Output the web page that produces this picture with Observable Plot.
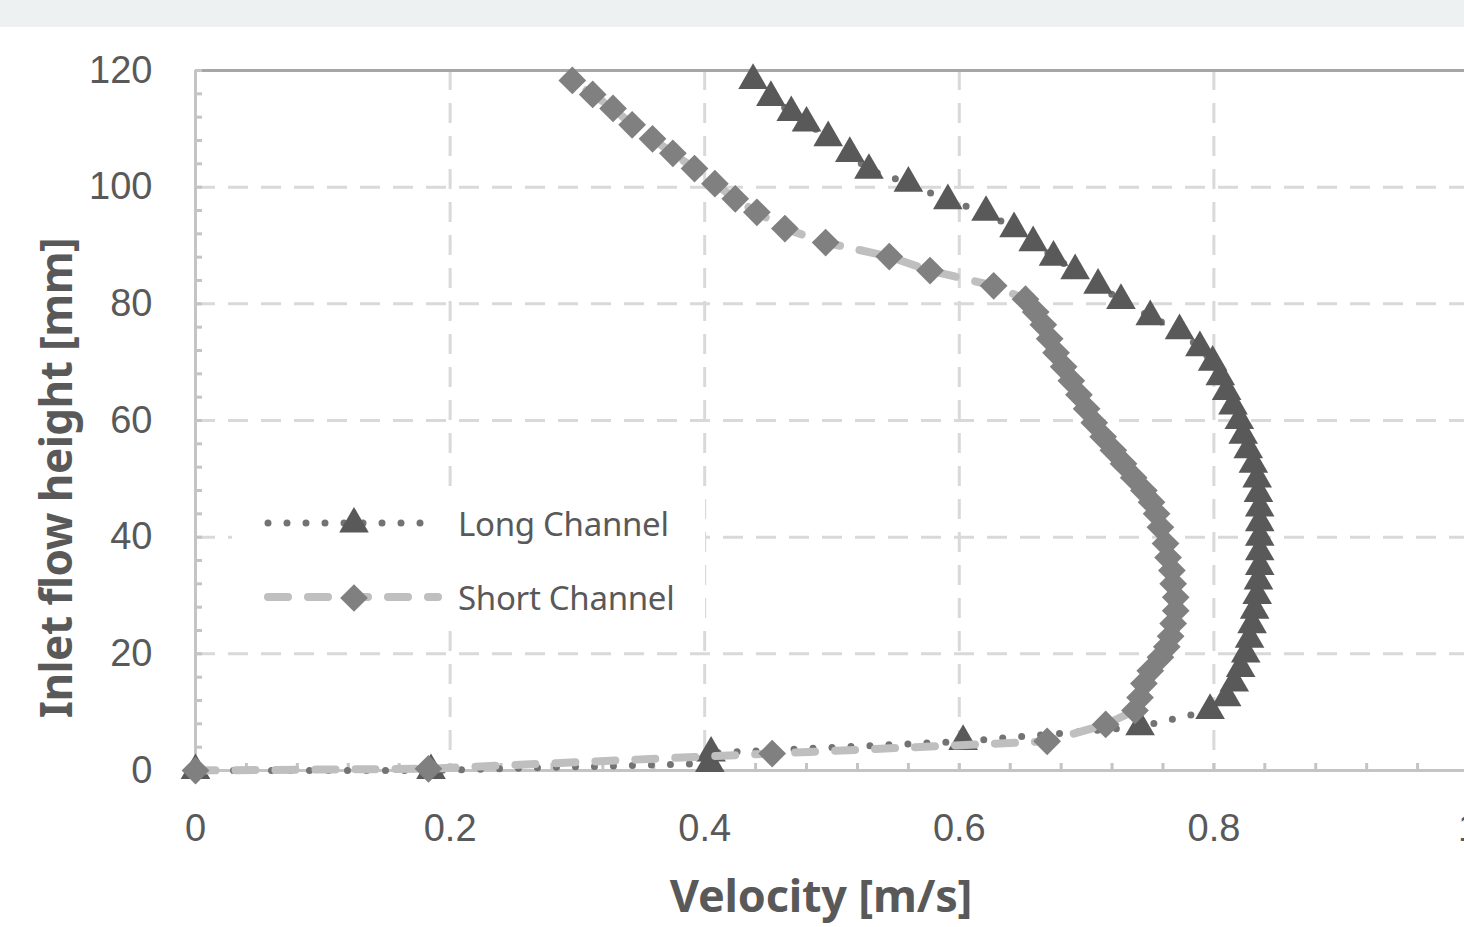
<!DOCTYPE html>
<html>
<head>
<meta charset="utf-8">
<script src="https://cdn.jsdelivr.net/npm/d3@7"></script>
<script src="https://cdn.jsdelivr.net/npm/@observablehq/plot@0.6"></script>
<style>
  html, body { margin: 0; padding: 0; background: #fff; overflow: hidden; }
  #wrap { position: relative; width: 1464px; height: 927px; overflow: hidden; background: #fff; }
  #band { position: absolute; left: 0; top: 0; width: 1464px; height: 27px; background: #eef1f2; }
  #chart { position: absolute; left: 0; top: 0; width: 1500px; }
  #chart svg { max-width: none !important; }
  .title { position: absolute; font-family: "Noto Sans", sans-serif; font-weight: 700; color: #595959; white-space: nowrap; }
  #xtitle { left: 821px; top: 872px; transform: translateX(-50%); font-size: 45px; letter-spacing: -0.2px; line-height: 1; }
  #ytitle { left: 55px; top: 478px; transform: translate(-50%, -50%) rotate(-90deg); font-size: 44px; letter-spacing: -0.5px; line-height: 1; }
  #legend { position: absolute; left: 232px; top: 487px; width: 473px; height: 141px; background: #fff; }
  .leg-row { position: absolute; left: 30px; height: 40px; display: flex; align-items: center; }
  .leg-row span { font-family: "Noto Sans", sans-serif; font-size: 33px; color: #595959; margin-left: 14px; letter-spacing: -0.3px; }
</style>
</head>
<body>
<div id="wrap">
  <div id="chart"></div>
  <div id="band"></div>
  <div id="xtitle" class="title">Velocity [m/s]</div>
  <div id="ytitle" class="title">Inlet flow height [mm]</div>
  <div id="legend"></div>
</div>
<script>
// ---- data ----
const seriesNames = ["Long Channel", "Short Channel"];

const longVelocity = [0, 0.185, 0.404, 0.405, 0.603, 0.742, 0.797, 0.810, 0.816, 0.821, 0.825, 0.828, 0.830, 0.832, 0.834, 0.835, 0.836, 0.836, 0.836, 0.836, 0.836, 0.835, 0.834, 0.831, 0.827, 0.823, 0.820, 0.815, 0.810, 0.805, 0.799, 0.789, 0.773, 0.750, 0.727, 0.709, 0.691, 0.674, 0.658, 0.643, 0.621, 0.591, 0.560, 0.529, 0.514, 0.497, 0.480, 0.468, 0.452, 0.438];
const longHeight   = [0, 0, 1.2, 3.0, 5.0, 7.5, 10.3, 12.5, 15, 17.5, 20, 22.5, 25, 27.5, 30, 32.5, 35, 37.5, 40, 42.5, 45, 47.5, 50, 52.5, 55, 57.5, 60, 62.5, 65, 67.5, 70, 72.5, 75.4, 77.8, 80.6, 83.2, 85.7, 88, 90.5, 92.9, 95.7, 97.7, 100.7, 102.9, 105.8, 108.5, 111, 112.8, 115.4, 118.3];

const shortVelocity = [0, 0.183, 0.453, 0.669, 0.715, 0.738, 0.742, 0.745, 0.750, 0.758, 0.763, 0.766, 0.768, 0.770, 0.770, 0.768, 0.767, 0.764, 0.762, 0.758, 0.755, 0.751, 0.745, 0.737, 0.729, 0.721, 0.713, 0.706, 0.700, 0.694, 0.688, 0.682, 0.676, 0.671, 0.666, 0.660, 0.652, 0.627, 0.577, 0.545, 0.495, 0.463, 0.441, 0.424, 0.408, 0.392, 0.375, 0.359, 0.343, 0.328, 0.312, 0.296];
const shortHeight   = [0, 0.3, 2.9, 5.0, 7.9, 10.3, 12.5, 14.9, 17.1, 19.4, 21.2, 23.0, 25.2, 27.4, 29.7, 32.0, 34.3, 36.5, 38.9, 41.7, 44.0, 46.0, 48.0, 50.2, 52.6, 54.9, 57.2, 59.6, 62.0, 64.4, 66.8, 69.2, 71.6, 74.0, 76.4, 78.6, 80.8, 83.1, 85.7, 88.1, 90.5, 92.9, 95.7, 98.0, 100.6, 103.2, 105.8, 108.3, 110.7, 113.5, 115.9, 118.3];

const xTicks = [0, 0.2, 0.4, 0.6, 0.8, 1];
const xTickLabels = ["0", "0.2", "0.4", "0.6", "0.8", "1"];
const yTicks = [0, 20, 40, 60, 80, 100, 120];
const xMinorTicks = [0, 0.04, 0.08, 0.12, 0.16, 0.2, 0.24, 0.28, 0.32, 0.36, 0.4, 0.44, 0.48, 0.52, 0.56, 0.6, 0.64, 0.68, 0.72, 0.76, 0.8, 0.84, 0.88, 0.92, 0.96, 1];
const yMinorTicks = [0, 4, 8, 12, 16, 20, 24, 28, 32, 36, 40, 44, 48, 52, 56, 60, 64, 68, 72, 76, 80, 84, 88, 92, 96, 100, 104, 108, 112, 116, 120];

// ---- build tables ----
const longData = longVelocity.map((v, i) => ({v, h: longHeight[i]}));
const shortData = shortVelocity.map((v, i) => ({v, h: shortHeight[i]}));

const LONG_MARK = "#595959", LONG_LINE = "#737373";
const SHORT_MARK = "#808080", SHORT_LINE = "#bfbfbf";

const chart = Plot.plot({
  width: 1500,
  height: 927,
  marginLeft: 195,
  marginRight: 32,
  marginTop: 70,
  marginBottom: 157,
  x: {domain: [0, 1]},
  y: {domain: [0, 120]},
  style: {fontFamily: "'Liberation Sans', Arial, sans-serif", fontSize: "38px", color: "#595959", background: "transparent", overflow: "visible", maxWidth: "none"},
  marks: [
    Plot.gridX(xTicks.filter(d => d > 0), {stroke: "#d9d9d9", strokeOpacity: 1, strokeWidth: 3, strokeDasharray: "20,13"}),
    Plot.gridY(yTicks.filter(d => d > 0 && d < 120), {stroke: "#d9d9d9", strokeOpacity: 1, strokeWidth: 3, strokeDasharray: "20,13"}),
    Plot.ruleY([120], {stroke: "#a6a6a6", strokeWidth: 3}),
    Plot.axisX({ticks: xMinorTicks, tickSize: -7, tickFormat: () => "", stroke: "#c4c4c4", strokeWidth: 3, label: null}),
    Plot.axisY({ticks: yMinorTicks, tickSize: -7, tickFormat: () => "", stroke: "#c4c4c4", strokeWidth: 3, label: null}),
    Plot.axisX({ticks: xTicks, tickSize: 0, tickPadding: 44, tickFormat: (d) => xTickLabels[xTicks.indexOf(d)], label: null, fill: "#595959"}),
    Plot.axisY({ticks: yTicks, tickSize: 0, tickPadding: 43, label: null, fill: "#595959"}),
    Plot.ruleX([0], {stroke: "#c4c4c4", strokeWidth: 3}),
    Plot.ruleY([0], {stroke: "#c4c4c4", strokeWidth: 3}),
    // Long channel
    Plot.line(longData, {x: "v", y: "h", stroke: LONG_LINE, strokeWidth: 7, strokeDasharray: "0,19", strokeLinecap: "round"}),
    Plot.dot(longData, {x: "v", y: "h", symbol: "triangle", r: 11, fill: LONG_MARK, stroke: "none"}),
    // Short channel
    Plot.line(shortData, {x: "v", y: "h", stroke: SHORT_LINE, strokeWidth: 8, strokeDasharray: "20,20", strokeLinecap: "round"}),
    Plot.dot(shortData, {x: "v", y: "h", symbol: "diamond2", r: 12.5, fill: SHORT_MARK, stroke: "none"})
  ]
});
document.getElementById("chart").appendChild(chart);

// ---- legend ----
const legend = document.getElementById("legend");
const legendItems = [
  {name: seriesNames[0], line: LONG_LINE, width: 7, dash: "0,19", mark: LONG_MARK, symbol: d3.symbolTriangle, size: 380, top: 16},
  {name: seriesNames[1], line: SHORT_LINE, width: 8, dash: "20,20", mark: SHORT_MARK, symbol: d3.symbolDiamond2, size: 490, top: 90}
];
legendItems.forEach(it => {
  const row = document.createElement("div");
  row.className = "leg-row";
  row.style.top = it.top + "px";
  const svg = d3.create("svg").attr("width", 182).attr("height", 40);
  svg.append("line").attr("x1", 6).attr("x2", 176).attr("y1", 20).attr("y2", 20)
    .attr("stroke", it.line).attr("stroke-width", it.width)
    .attr("stroke-dasharray", it.dash).attr("stroke-linecap", "round");
  svg.append("path").attr("d", d3.symbol(it.symbol, it.size)()).attr("transform", "translate(92,21)").attr("fill", it.mark);
  row.appendChild(svg.node());
  const span = document.createElement("span");
  span.textContent = it.name;
  row.appendChild(span);
  legend.appendChild(row);
});
</script>
</body>
</html>
